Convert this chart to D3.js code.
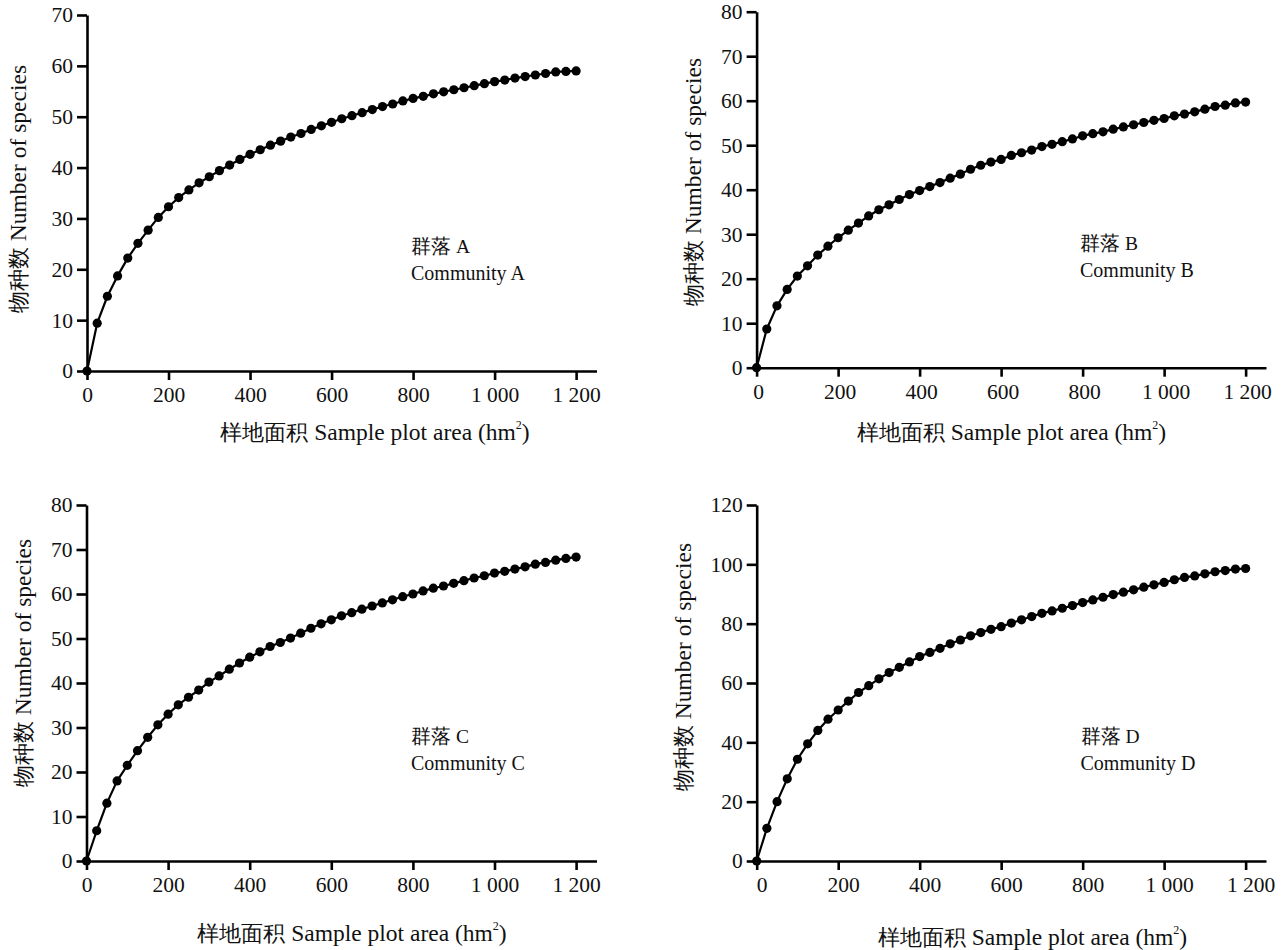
<!DOCTYPE html>
<html>
<head>
<meta charset="utf-8">
<script src="https://cdn.jsdelivr.net/npm/d3@7"></script>
<style>
  html, body { margin: 0; padding: 0; background: #fff; }
  svg { display: block; }
</style>
</head>
<body>
<svg id="chart" width="1286" height="950"></svg>
<script>
// Sampled plot area (hm²) at which cumulative species counts were recorded
const areas = [0, 25, 50, 75, 100, 125, 150, 175, 200, 225, 250, 275, 300, 325, 350, 375, 400,
  425, 450, 475, 500, 525, 550, 575, 600, 625, 650, 675, 700, 725, 750, 775, 800,
  825, 850, 875, 900, 925, 950, 975, 1000, 1025, 1050, 1075, 1100, 1125, 1150, 1175, 1200];

// Cumulative number of species per community
const speciesA = [0, 9.4, 14.7, 18.7, 22.2, 25.1, 27.7, 30.2, 32.3, 34.1, 35.6, 37.0, 38.2, 39.4, 40.5, 41.6, 42.6,
  43.5, 44.4, 45.2, 46.0, 46.7, 47.5, 48.2, 48.9, 49.6, 50.2, 50.8, 51.4, 52.0, 52.5, 53.1, 53.6,
  54.0, 54.5, 54.9, 55.3, 55.7, 56.1, 56.5, 56.9, 57.2, 57.6, 57.9, 58.2, 58.5, 58.8, 58.9, 59.0];
const speciesB = [0, 8.7, 13.9, 17.6, 20.6, 22.9, 25.3, 27.3, 29.2, 30.9, 32.5, 34.1, 35.5, 36.6, 37.8, 38.9, 39.8,
  40.7, 41.6, 42.6, 43.5, 44.6, 45.5, 46.2, 46.8, 47.7, 48.3, 48.9, 49.7, 50.2, 50.8, 51.4, 52.1,
  52.6, 53.0, 53.6, 54.1, 54.6, 55.1, 55.6, 56.0, 56.6, 57.0, 57.5, 58.1, 58.7, 59.0, 59.5, 59.7];
const speciesC = [0, 6.8, 13.0, 18.0, 21.5, 24.8, 27.8, 30.6, 33.0, 35.1, 36.8, 38.4, 40.2, 41.6, 43.1, 44.5, 45.8,
  47.0, 48.2, 49.1, 50.1, 51.2, 52.3, 53.3, 54.2, 55.1, 55.8, 56.6, 57.3, 58.0, 58.7, 59.4, 60.0,
  60.7, 61.3, 61.8, 62.4, 63.0, 63.6, 64.1, 64.7, 65.1, 65.6, 66.1, 66.7, 67.1, 67.6, 68.0, 68.3];
const speciesD = [0, 11.0, 20.0, 27.7, 34.3, 39.5, 44.0, 47.8, 50.9, 53.9, 56.8, 59.1, 61.4, 63.5, 65.3, 67.1, 68.9,
  70.3, 71.7, 73.2, 74.5, 75.9, 77.0, 78.1, 79.0, 80.2, 81.3, 82.4, 83.5, 84.3, 85.2, 86.1, 87.1,
  88.0, 88.9, 89.8, 90.6, 91.4, 92.3, 93.1, 93.9, 94.8, 95.6, 96.1, 96.8, 97.5, 97.9, 98.4, 98.6];

// Axis ticks and their printed labels
const xTicks = [0, 200, 400, 600, 800, 1000, 1200];
const xTickLabels = ["0", "200", "400", "600", "800", "1 000", "1 200"];
const yTicksAC = [0, 10, 20, 30, 40, 50, 60, 70];
const yTicksBC = [0, 10, 20, 30, 40, 50, 60, 70, 80];
const yTicksD = [0, 20, 40, 60, 80, 100, 120];

// Panel titles
const communityCN = ["群落", "群落", "群落", "群落"];
const communityKey = ["A", "B", "C", "D"];
const communityEN = ["Community A", "Community B", "Community C", "Community D"];
const xTitleCN = "样地面积";
const xTitleEN = "Sample plot area (hm";
const yTitleCN = "物种数";
const yTitleEN = "Number of species";

const FONT = "\"Liberation Serif\"";

// Layout of the four panels (pixel frames)
const panels = [
  { values: speciesA, yMax: 70, yTicks: yTicksAC, x0: 87, x1: 596.5, yBottom: 371, yTop: 15,
    xLab: [375, 440], yLab: [18, 189], note: [411, 253], tickShift: 0 },
  { values: speciesB, yMax: 80, yTicks: yTicksBC, x0: 756.6, x1: 1266, yBottom: 367.7, yTop: 11.7,
    xLab: [1011.5, 440], yLab: [693, 182], note: [1080, 250], tickShift: 1.5 },
  { values: speciesC, yMax: 80, yTicks: yTicksBC, x0: 86.5, x1: 596.5, yBottom: 861, yTop: 505,
    xLab: [352, 941], yLab: [23, 663], note: [411, 743], tickShift: 0 },
  { values: speciesD, yMax: 120, yTicks: yTicksD, x0: 756.7, x1: 1266, yBottom: 861, yTop: 505,
    xLab: [1032.5, 945], yLab: [683, 667], note: [1080.5, 743], tickShift: 5 }
];

const svg = d3.select("#chart");

panels.forEach((p, i) => {
  const x = d3.scaleLinear().domain([0, 1250]).range([p.x0, p.x1]);
  const y = d3.scaleLinear().domain([0, p.yMax]).range([p.yBottom, p.yTop]);
  const g = svg.append("g");

  // Curve and markers
  const line = d3.line().x((d, k) => x(areas[k])).y(d => y(d));
  g.append("path")
    .datum(p.values)
    .attr("d", line)
    .attr("fill", "none")
    .attr("stroke", "#000")
    .attr("stroke-width", 2.2)
    .attr("stroke-linejoin", "round");

  g.selectAll("circle")
    .data(p.values)
    .join("circle")
    .attr("cx", (d, k) => x(areas[k]))
    .attr("cy", d => y(d))
    .attr("r", 4.6)
    .attr("fill", "#000");

  // X axis
  const xAxis = g.append("g")
    .attr("transform", `translate(0,${p.yBottom})`)
    .call(d3.axisBottom(x)
      .tickValues(xTicks)
      .tickFormat((d, k) => xTickLabels[k])
      .tickSize(9)
      .tickSizeOuter(0)
      .tickPadding(7));

  // Y axis
  const yAxis = g.append("g")
    .attr("transform", `translate(${p.x0},0)`)
    .call(d3.axisLeft(y)
      .tickValues(p.yTicks)
      .tickSize(10)
      .tickSizeOuter(0)
      .tickPadding(4));

  [xAxis, yAxis].forEach(ax => {
    ax.attr("font-family", FONT).attr("font-size", 21.5);
    ax.select(".domain").attr("stroke", "#000").attr("stroke-width", 2.6);
    ax.selectAll(".tick line").attr("stroke", "#000").attr("stroke-width", 2.6);
    ax.selectAll(".tick text").attr("fill", "#111");
  });
  xAxis.selectAll(".tick text").attr("dx", p.tickShift);

  // X axis title
  const xt = g.append("text")
    .attr("x", p.xLab[0])
    .attr("y", p.xLab[1])
    .attr("text-anchor", "middle")
    .attr("font-family", FONT)
    .attr("fill", "#111");
  xt.append("tspan").attr("font-size", 22).text(xTitleCN);
  xt.append("tspan").attr("font-size", 23.5).text(" " + xTitleEN);
  xt.append("tspan").attr("font-size", 12).attr("dy", -11).text("2");
  xt.append("tspan").attr("font-size", 23.5).attr("dy", 11).text(")");

  // Y axis title
  const yt = g.append("text")
    .attr("transform", `translate(${p.yLab[0]},${p.yLab[1]}) rotate(-90)`)
    .attr("text-anchor", "middle")
    .attr("dominant-baseline", "central")
    .attr("font-family", FONT)
    .attr("fill", "#111");
  yt.append("tspan").attr("font-size", 22).text(yTitleCN);
  yt.append("tspan").attr("font-size", 23.5).text(" " + yTitleEN);

  // Community note
  const n1 = g.append("text")
    .attr("x", p.note[0])
    .attr("y", p.note[1])
    .attr("font-family", FONT)
    .attr("font-size", 19.5)
    .attr("fill", "#111");
  n1.append("tspan").text(communityCN[i]);
  n1.append("tspan").text(" " + communityKey[i]);
  g.append("text")
    .attr("x", p.note[0])
    .attr("y", p.note[1] + 27)
    .attr("font-family", FONT)
    .attr("font-size", 20)
    .attr("fill", "#111")
    .text(communityEN[i]);
});
</script>
</body>
</html>
